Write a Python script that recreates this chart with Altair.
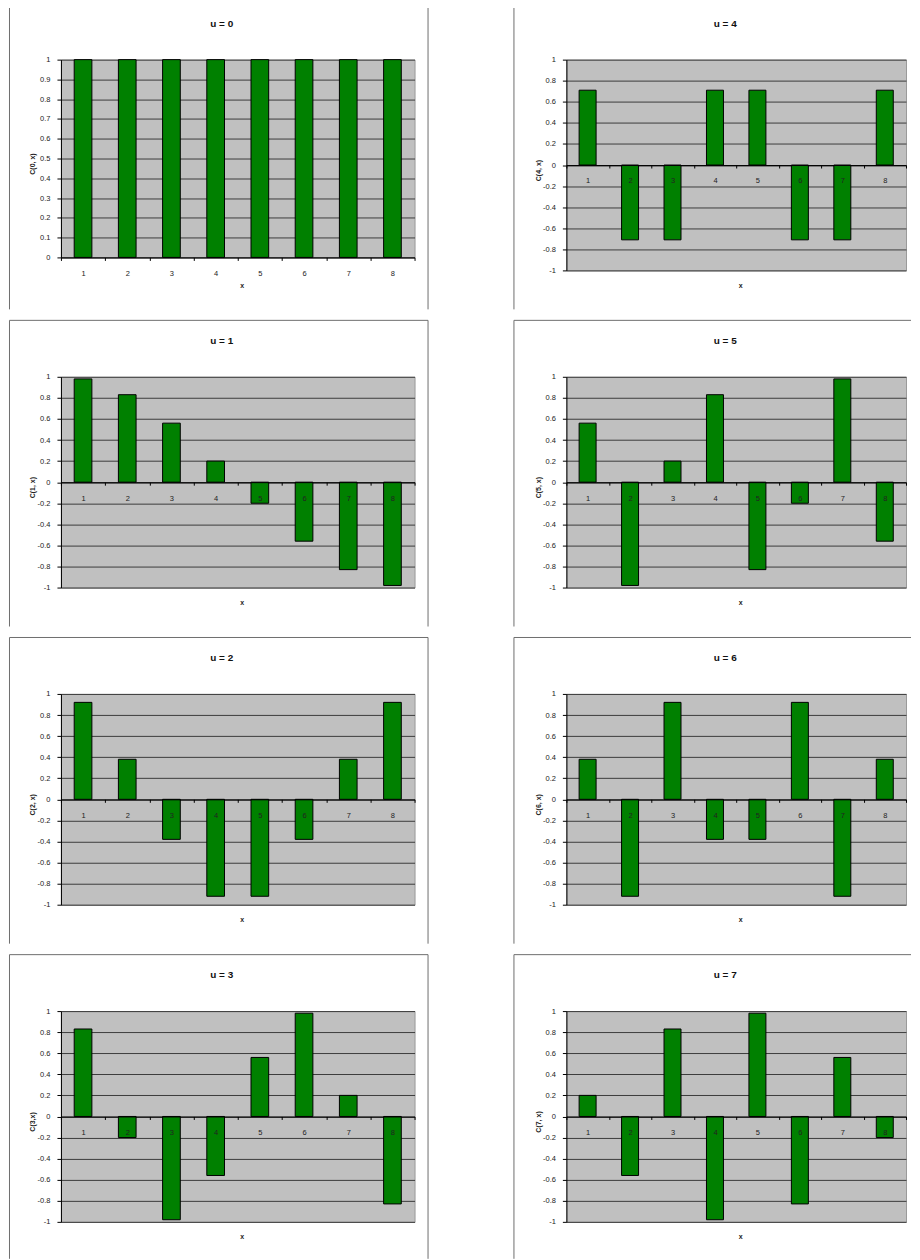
import altair as alt
import pandas as pd

x_labels = ["1", "2", "3", "4", "5", "6", "7", "8"]
c0 = [1, 1, 1, 1, 1, 1, 1, 1]
c1 = [0.98, 0.83, 0.56, 0.20, -0.20, -0.56, -0.83, -0.98]
c2 = [0.92, 0.38, -0.38, -0.92, -0.92, -0.38, 0.38, 0.92]
c3 = [0.83, -0.20, -0.98, -0.56, 0.56, 0.98, 0.20, -0.83]
c4 = [0.71, -0.71, -0.71, 0.71, 0.71, -0.71, -0.71, 0.71]
c5 = [0.56, -0.98, 0.20, 0.83, -0.83, -0.20, 0.98, -0.56]
c6 = [0.38, -0.92, 0.92, -0.38, -0.38, 0.92, -0.92, 0.38]
c7 = [0.20, -0.56, 0.83, -0.98, 0.98, -0.83, 0.56, -0.20]

panel_titles = ["u = 0", "u = 1", "u = 2", "u = 3", "u = 4", "u = 5", "u = 6", "u = 7"]
y_titles = ["C(0, x)", "C(1, x)", "C(2, x)", "C(3,x)", "C(4, x)", "C(5, x)", "C(6, x)", "C(7, x)"]
ticks_pos = [0, 0.1, 0.2, 0.3, 0.4, 0.5, 0.6, 0.7, 0.8, 0.9, 1]
ticks_sym = [-1, -0.8, -0.6, -0.4, -0.2, 0, 0.2, 0.4, 0.6, 0.8, 1]

FONT = "Liberation Sans"
FRAME = "#6e6e6e"
LABEL_EXPR = "datum.value < 0 ? '-' + format(-datum.value, '~g') : format(datum.value, '~g')"


def panel(vals, title, ytitle, col, last_row, positive_only=False):
    pw = 354 if col == 0 else 340
    ph = 198 if positive_only else 211
    df = pd.DataFrame({"x": x_labels, "v": vals})
    ydom = [0, 1] if positive_only else [-1, 1]
    yticks = ticks_pos if positive_only else ticks_sym
    xoff = 0 if positive_only else -ph / 2
    xtitle_y = 28 if positive_only else ph / 2 + 15

    bars = alt.Chart(df).mark_bar(
        width=alt.RelativeBandSize(0.4), fill="#008000", stroke="#000000", strokeWidth=1
    ).encode(
        x=alt.X(
            "x:N", sort=x_labels,
            scale=alt.Scale(paddingInner=0, paddingOuter=0),
            axis=alt.Axis(
                title="x", offset=xoff, tickBand="extent", labelAngle=0,
                labelFontSize=7.5, labelColor="#222222", labelBaseline="middle",
                labelPadding=13, tickSize=3, tickColor="#000000",
                domainColor="#000000", zindex=1,
                titleFontSize=7, titleFontWeight="bold", titleColor="#222222",
                titleX=pw / 2 + 4, titleY=xtitle_y, titleBaseline="middle",
            ),
        ),
        y=alt.Y(
            "v:Q",
            scale=alt.Scale(domain=ydom, nice=False),
            axis=alt.Axis(
                values=yticks, labelExpr=LABEL_EXPR, labelFontSize=7.5,
                labelColor="#222222", labelPadding=7, tickSize=4,
                tickColor="#000000", domainColor="#000000",
                grid=True, gridColor="#3c3c3c", gridWidth=1,
                title=ytitle, titleFontSize=7, titleFontWeight="bold",
                titleColor="#222222", titleAngle=270, titleX=-28,
                titleY=ph / 2 + 5, titleAlign="center", titleBaseline="middle",
            ),
        ),
    )

    one = pd.DataFrame({"k": [0]})
    fb = 248 if last_row else 250
    left = -51.5 if col == 0 else -52.5
    right = 367.5 if col == 0 else 345
    txt = alt.Chart(one).mark_text(
        fontSize=10, fontWeight="bold", font=FONT, color="#111111",
        align="center", baseline="middle"
    ).encode(x=alt.value(161 if col == 0 else 159), y=alt.value(-36), text=alt.value(title))
    fl = alt.Chart(one).mark_rule(color=FRAME, strokeWidth=1).encode(
        x=alt.value(left), y=alt.value(-56.5), y2=alt.value(fb))
    ft = alt.Chart(one).mark_rule(color=FRAME, strokeWidth=1).encode(
        x=alt.value(left), x2=alt.value(right), y=alt.value(-56.5))
    layers = [bars, txt, fl, ft]
    if col == 0:
        fr = alt.Chart(one).mark_rule(color=FRAME, strokeWidth=1).encode(
            x=alt.value(right), y=alt.value(-56.5), y2=alt.value(fb))
        layers.append(fr)
    return alt.layer(*layers).properties(width=pw, height=ph)


series = [c0, c1, c2, c3, c4, c5, c6, c7]
rows = []
for r in range(4):
    lp = panel(series[r], panel_titles[r], y_titles[r], 0, r == 3, positive_only=(r == 0))
    rp = panel(series[r + 4], panel_titles[r + 4], y_titles[r + 4], 1, r == 3)
    rows.append(alt.hconcat(lp, rp, spacing=83))

chart = alt.vconcat(*rows, spacing=8.5).properties(
    padding={"top": -7, "left": 0, "right": 0, "bottom": 0}
).configure(font=FONT).configure_view(fill="#C0C0C0", stroke="#9a9a9a")

chart.save("out.html", embed_options={"renderer": "svg", "actions": False})
